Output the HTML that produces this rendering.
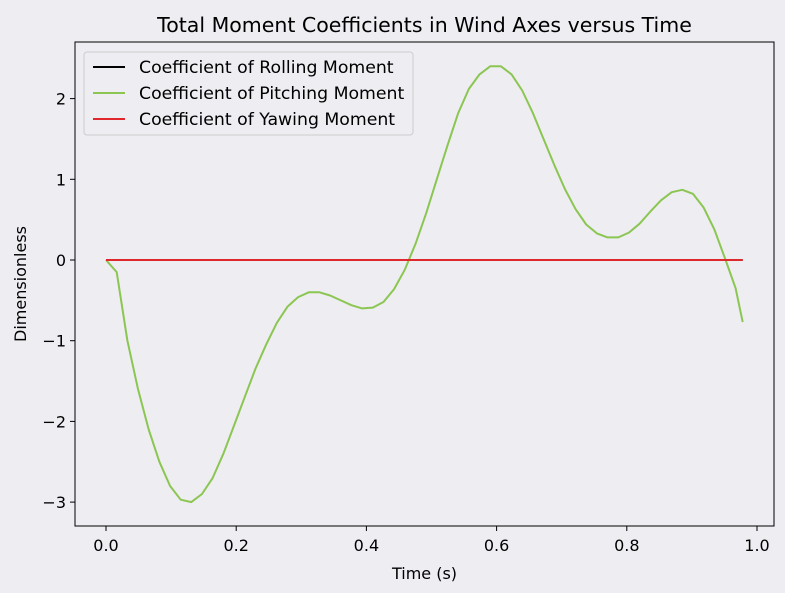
<!DOCTYPE html>
<html><head><meta charset="utf-8"><style>
html,body{margin:0;padding:0;background:#eeedf1;}
svg{display:block;font-family:"DejaVu Sans","Liberation Sans",sans-serif;}
</style></head><body>
<svg id="chart" width="785" height="593"></svg>
<script>
const times = [0,0.0164,0.0328,0.0492,0.0656,0.082,0.0984,0.1148,0.1311,0.1475,0.1639,0.1803,0.1967,0.2131,0.2295,0.2459,0.2623,0.2787,0.2951,0.3115,0.3279,0.3443,0.3607,0.377,0.3934,0.4098,0.4262,0.4426,0.459,0.4754,0.4918,0.5082,0.5246,0.541,0.5574,0.5738,0.5902,0.6066,0.623,0.6393,0.6557,0.6721,0.6885,0.7049,0.7213,0.7377,0.7541,0.7705,0.7869,0.8033,0.8197,0.8361,0.8525,0.8689,0.8852,0.9016,0.918,0.9344,0.9508,0.9672,0.978];
const pitching = [0,-0.15,-1.0,-1.6,-2.1,-2.5,-2.8,-2.97,-3.0,-2.9,-2.7,-2.4,-2.05,-1.7,-1.35,-1.05,-0.78,-0.58,-0.46,-0.4,-0.4,-0.44,-0.5,-0.56,-0.6,-0.59,-0.52,-0.36,-0.12,0.2,0.58,1.0,1.42,1.82,2.12,2.3,2.4,2.4,2.3,2.1,1.82,1.5,1.18,0.88,0.63,0.44,0.33,0.28,0.28,0.34,0.45,0.6,0.74,0.84,0.87,0.82,0.65,0.38,0.02,-0.35,-0.77];
const rolling = times.map(()=>0);
const yawing = times.map(()=>0);
const xTicks = [0.0,0.2,0.4,0.6,0.8,1.0];
const xTickLabels = ["0.0","0.2","0.4","0.6","0.8","1.0"];
const yTicks = [2,1,0,-1,-2,-3];
const yTickLabels = ["2","1","0","\u22121","\u22122","\u22123"];

const svg = document.getElementById('chart');
const NS = 'http://www.w3.org/2000/svg';
const L=75,R=774,T=42,B=526;
const X = t => 106 + t*651;
const Y = v => 260 - v*80.7;
function mk(tag, attrs, parent){const e=document.createElementNS(NS,tag);for(const k in attrs)e.setAttribute(k,attrs[k]);(parent||svg).appendChild(e);return e;}

const frame = mk('rect',{x:L,y:T,width:R-L,height:B-T,fill:'#eeedf1',stroke:'#000','stroke-width':1});



xTicks.forEach((t,i)=>{
  const x=X(t);
  const tk = mk('line',{x1:x,x2:x,y1:B,y2:B+5,stroke:'#000'});
  
  
  const tx = mk('text',{x:x,y:B+25,'text-anchor':'middle','font-size':16,fill:'#000'});
  tx.textContent = xTickLabels[i];
  
  
});
yTicks.forEach((v,i)=>{
  const y=Y(v);
  const tk = mk('line',{x1:L-5,x2:L,y1:y,y2:y,stroke:'#000'});
  
  
  const tx = mk('text',{x:L-9,y:y+6,'text-anchor':'end','font-size':16,fill:'#000'});
  tx.textContent = yTickLabels[i];
  
  
});

function series(vals,color,name){
  const d = vals.map((v,i)=>(i?'L':'M')+X(times[i]).toFixed(1)+','+Y(v).toFixed(1)).join(' ');
  const p = mk('path',{d:d,fill:'none',stroke:color,'stroke-width':2,'stroke-linejoin':'round'});
  
  
}
series(rolling,'#000000','rolling-moment-line');
series(pitching,'#8bc652','pitching-moment-line');
series(yawing,'#e0282c','yawing-moment-line');

const title = mk('text',{x:(L+R)/2,y:32,'text-anchor':'middle','font-size':20.5,fill:'#000'});
title.textContent='Total Moment Coefficients in Wind Axes versus Time';


const xl = mk('text',{x:(L+R)/2,y:579,'text-anchor':'middle','font-size':16,fill:'#000'});
xl.textContent='Time (s)';


const yl = mk('text',{x:0,y:0,'text-anchor':'middle','font-size':16,fill:'#000',transform:'translate(26,'+((T+B)/2)+') rotate(-90)'});
yl.textContent='Dimensionless';



const lg = mk('g',{});


mk('rect',{x:84,y:52,width:329,height:83,rx:3,fill:'#eeedf1',stroke:'#cccccc'},lg);
const entries=[['Coefficient of Rolling Moment','#000000'],['Coefficient of Pitching Moment','#8bc652'],['Coefficient of Yawing Moment','#e0282c']];
entries.forEach((e,i)=>{
  const y=67+i*26;
  const g = mk('g',{},lg);
  
  
  mk('line',{x1:93,x2:125,y1:y,y2:y,stroke:e[1],'stroke-width':2},g);
  const t = mk('text',{x:139,y:y+6,'font-size':17.3,fill:'#000'},g);
  t.textContent=e[0];
});
</script>
</body></html>
